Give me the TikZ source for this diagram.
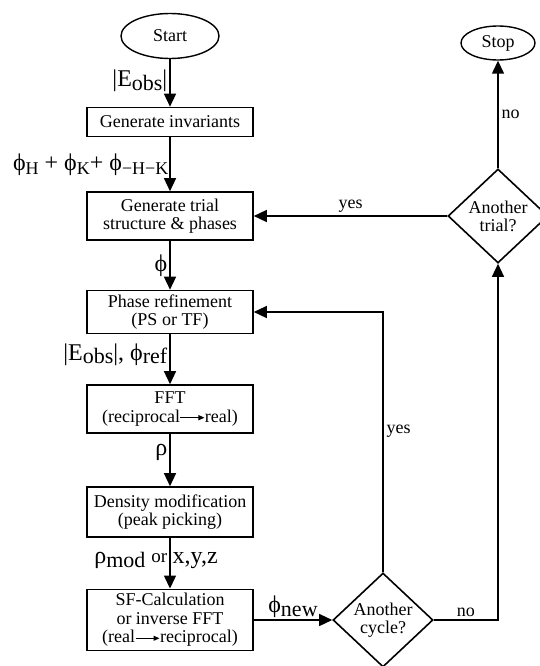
\documentclass[tikz,border=0pt]{standalone}
\usepackage{fontspec}
\setmainfont{Liberation Serif}
\usetikzlibrary{arrows.meta,shapes.geometric}
\newcommand\lowtxt[1]{\raisebox{-0.35ex}{\fontsize{22}{22}\selectfont #1}}
\newcommand\lowsm[1]{\raisebox{-0.4ex}{\fontsize{18}{18}\selectfont #1}}
\newcommand\smallarr{\tikz[baseline=-0.55ex]\draw[line width=1pt,-{Triangle[length=6pt,width=5pt]}] (0pt,0pt) -- (24pt,0pt);}

\begin{document}
\begin{tikzpicture}[x=1pt, y=-1pt,
    box/.style={draw, line width=1.6pt, minimum width=166pt, align=center, inner sep=4pt, font=\fontsize{18}{18.5}\selectfont},
    term/.style={draw, ellipse, line width=1.4pt, font=\fontsize{18}{18}\selectfont},
    decide/.style={draw, diamond, line width=1.6pt, minimum width=100pt, minimum height=94pt, inner sep=0pt, align=center, font=\fontsize{18}{18}\selectfont},
    flow/.style={line width=1.4pt, -{Triangle[length=13pt,width=12pt]}},
    lab/.style={font=\fontsize{24}{26}\selectfont, inner sep=2pt},
    ans/.style={font=\fontsize{18}{18}\selectfont, inner sep=3pt}]
    \useasboundingbox (0,0) rectangle (539,666);
    \node[term, minimum width=98pt, minimum height=45pt] (start) at (170,36) {Start};
    \node[box, minimum height=29pt] (inv) at (170,122) {Generate invariants};
    \node[box, minimum height=48pt] (trial) at (170,216) {Generate trial\\structure \& phases};
    \node[box, minimum height=43pt] (refine) at (170,312) {Phase refinement\\(PS or TF)};
    \node[box, minimum height=48pt] (fft) at (170,409) {FFT\\(reciprocal\smallarr real)};
    \node[box, minimum height=50pt] (dens) at (170,512) {Density modification\\(peak picking)};
    \node[box, minimum height=59pt] (sf) at (170,620) {SF-Calculation\\or inverse FFT\\(real\smallarr reciprocal)};
    \node[decide] (cycle) at (383,620) {Another\\cycle?};
    \node[decide] (another) at (498,216) {Another\\trial?};
    \node[term, minimum width=74pt, minimum height=34pt] (stop) at (498,43) {Stop};
    \draw[flow] (start) -- (inv) node[lab, pos=0.45, left] {|E\lowtxt{obs}|};
    \draw[flow] (inv) -- (trial) node[lab, midway, left, inner sep=1pt] {ϕ\lowsm{H} + ϕ\lowsm{K}+ ϕ\lowsm{−H−K}};
    \draw[flow] (trial) -- (refine) node[lab, midway, left] {ϕ};
    \draw[flow] (refine) -- (fft) node[lab, pos=0.4, left] {|E\lowtxt{obs}|, ϕ\lowtxt{ref}};
    \draw[flow] (fft) -- (dens) node[lab, pos=0.35, left] {ρ};
    \draw[flow] (dens) -- (sf) node[lab, pos=0.45, left] {ρ\lowtxt{mod} \raisebox{0.15ex}{\fontsize{19}{19}\selectfont or}} node[lab, pos=0.45, right] {x,y,z};
    \draw[flow] (sf) -- (cycle) node[lab, midway, above] {ϕ\lowtxt{new}};
    \draw[flow] (cycle) |- (refine) node[ans, pos=0.27, right] {yes};
    \draw[flow] (cycle) -| (another) node[ans, pos=0.25, above] {no};
    \draw[flow] (another) -- (stop) node[ans, midway, right] {no};
    \draw[flow] (another) -- (trial) node[ans, midway, above] {yes};
\end{tikzpicture}
\end{document}
